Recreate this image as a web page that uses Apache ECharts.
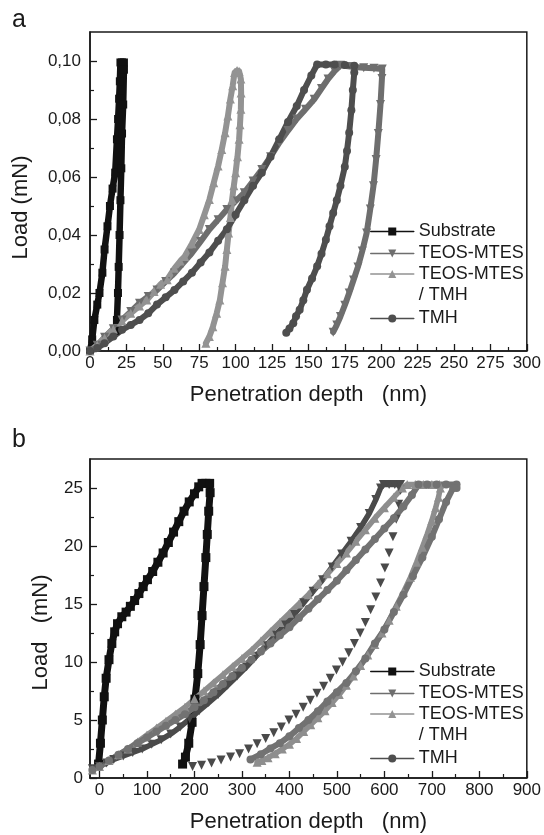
<!DOCTYPE html>
<html>
<head>
<meta charset="utf-8">
<script src="https://cdn.jsdelivr.net/npm/echarts@6/dist/echarts.min.js"></script>
<style>
html,body{margin:0;padding:0;background:#fff;}
#chart{width:544px;height:835px;}
</style>
</head>
<body>
<div id="chart"></div>
<script>
// ---------------- Data (panel a): [penetration depth nm, load mN] ----------------
const aSubstrate = [[0,0],[1.5,0.004],[3,0.0107],[5,0.016],[6.5,0.02],[8.5,0.027],[10,0.035],[12,0.043],[13.7,0.05],[15.5,0.056],[17.3,0.0615],[18.5,0.073],[19.3,0.08],[20,0.087],[20.5,0.093],[20.9,0.0995],[22,0.0995],[23.3,0.0995],[23.3,0.097],[22.8,0.085],[22,0.075],[21.5,0.063],[20.9,0.052],[20.3,0.04],[19.7,0.029],[19.2,0.02],[18.5,0.0107],[17.5,0.007]];
const aTeosMtes = [[0,0],[5,0.002],[10,0.0047],[16,0.0077],[22,0.0107],[28,0.0136],[34,0.0165],[40,0.0188],[46,0.021],[52,0.024],[58,0.0269],[64,0.0303],[70,0.0338],[76,0.0378],[82,0.0419],[88,0.0453],[94,0.0488],[100,0.0517],[106,0.0546],[112,0.0586],[118,0.0626],[124,0.067],[130,0.0718],[136,0.076],[142,0.08],[148,0.0834],[154,0.0868],[159,0.0905],[163.5,0.0938],[168,0.0965],[172,0.0985],[180,0.098],[188,0.0977],[195,0.0975],[200.7,0.0972],[200.5,0.094],[199.5,0.085],[198,0.075],[196.5,0.066],[194.7,0.057],[192.5,0.049],[190,0.0407],[187,0.0345],[184,0.029],[181,0.0245],[178,0.02],[175,0.0158],[172,0.0119],[169.5,0.009],[167,0.0065]];
const aTeosMtesTmh = [[0,0],[5,0.002],[10,0.0045],[16,0.0075],[22,0.0104],[28,0.013],[34,0.0155],[39,0.0176],[44,0.0205],[48.5,0.023],[53,0.0246],[58,0.0285],[62,0.031],[65,0.0326],[70,0.037],[75,0.0419],[78.5,0.047],[82,0.0522],[85,0.058],[88,0.0638],[90.5,0.0695],[92.8,0.0753],[94.7,0.081],[96.4,0.0869],[98,0.0915],[99.3,0.096],[101,0.0967],[102.4,0.0965],[103.6,0.0938],[103.8,0.089],[103.6,0.0834],[103,0.078],[102.4,0.073],[101.3,0.067],[100,0.0615],[98.8,0.057],[97.6,0.0522],[96.4,0.046],[95.2,0.0407],[94,0.035],[92.8,0.0292],[91,0.0235],[89.2,0.0176],[87,0.013],[84.4,0.0084],[82,0.005],[79.6,0.0027]];
const aTmh = [[0,0],[5,0.001],[10,0.0027],[16,0.005],[22,0.0073],[28,0.009],[34,0.0107],[40,0.013],[46,0.016],[52,0.0185],[58,0.021],[64,0.024],[70,0.027],[76,0.0305],[82,0.034],[88,0.038],[94,0.042],[100,0.047],[106,0.052],[112,0.057],[118,0.0615],[124,0.067],[130,0.073],[136,0.079],[142,0.0845],[147,0.09],[152,0.095],[156,0.0988],[162,0.0988],[168,0.0988],[175,0.0986],[181.5,0.0984],[181.5,0.096],[180.5,0.09],[179.5,0.083],[178,0.0753],[176.5,0.069],[175,0.0635],[172,0.057],[169.5,0.052],[167,0.0476],[164.5,0.043],[162,0.0384],[159,0.0335],[156,0.0292],[152.5,0.025],[149,0.0211],[146.5,0.0175],[144,0.0142],[141.5,0.012],[139.6,0.0096],[137,0.0078],[134.8,0.0063]];

// ---------------- Data (panel b): [penetration depth nm, load mN] ----------------
const bSubstrate = [[-2,1.2],[2,3],[6,5],[10,7],[14,8.6],[20,10.2],[26,11.6],[32,12.6],[38,13.3],[47,13.9],[56,14.3],[65,14.8],[74,15.3],[83,15.9],[92,16.5],[101,17.1],[112,17.8],[123,18.6],[134,19.4],[145,20.3],[156,21.2],[167,22.1],[178,23],[189,23.8],[200,24.5],[209,25.1],[216,25.4],[224,25.4],[232,25.4],[233,24.6],[230,23],[227,21],[224,19],[220,16.5],[216,14],[212,11.5],[207,9],[201,6.8],[195,4.8],[188,3],[181,1.8],[175,1.2]];
const bTeosMtesLoading = [[-15,0.8],[0,1.0],[15,1.3],[30,1.6],[50,1.9],[70,2.2],[90,2.5],[110,2.9],[130,3.3],[150,3.8],[170,4.4],[190,5.1],[210,5.8],[230,6.5],[250,7.2],[270,8.0],[290,8.8],[310,9.6],[330,10.5],[350,11.4],[370,12.3],[390,13.2],[410,14.1],[430,15.1],[450,16.1],[470,17.1],[490,18.2],[510,19.3],[530,20.4],[550,21.6],[568,22.8],[582,24.0],[592,25.0],[598,25.3],[610,25.3],[622,25.3],[634,25.3]];
const bTeosMtesUnloading = [[634,24.8],[630,23.6],[625,22.3],[618,20.8],[610,19.4],[601,18.1],[592,16.8],[582,15.6],[571,14.5],[560,13.4],[549,12.5],[537,11.6],[525,10.8],[512,10.0],[499,9.3],[486,8.6],[472,7.9],[458,7.3],[444,6.7],[429,6.1],[414,5.5],[399,5.0],[383,4.4],[367,3.9],[350,3.4],[332,2.95],[314,2.5],[295,2.1],[276,1.8],[256,1.55],[236,1.3],[215,1.1],[196,1.0]];
const bTeosMtesTmh = [[-15,0.7],[0,1.0],[20,1.5],[40,2.0],[60,2.5],[80,3.1],[100,3.7],[120,4.3],[140,4.9],[160,5.5],[180,6.1],[200,6.8],[220,7.5],[240,8.2],[260,8.9],[280,9.6],[300,10.3],[320,11.0],[340,11.8],[360,12.6],[380,13.4],[400,14.2],[420,15.0],[440,15.8],[460,16.7],[480,17.6],[500,18.5],[520,19.4],[540,20.4],[560,21.4],[580,22.4],[600,23.3],[620,24.2],[638,25.0],[648,25.3],[665,25.3],[682,25.3],[700,25.3],[716,25.3],[718,25.0],[714,24.2],[708,23.3],[700,22.2],[690,21.0],[680,19.9],[668,18.6],[655,17.3],[640,16.0],[625,14.8],[610,13.6],[595,12.5],[580,11.5],[565,10.6],[550,9.7],[535,8.8],[520,8.0],[505,7.2],[490,6.5],[475,5.8],[460,5.2],[445,4.6],[430,4.0],[415,3.4],[400,2.9],[385,2.5],[370,2.1],[355,1.75],[342,1.5],[332,1.35]];
const bTmh = [[-15,0.7],[0,1.0],[20,1.5],[40,2.0],[60,2.5],[80,3.0],[100,3.5],[120,4.0],[140,4.5],[160,5.0],[180,5.5],[200,6.1],[220,6.7],[240,7.4],[260,8.1],[280,8.8],[300,9.5],[320,10.2],[340,10.9],[360,11.6],[380,12.3],[400,13.0],[420,13.8],[440,14.6],[460,15.4],[480,16.2],[500,17.0],[520,17.9],[540,18.8],[560,19.7],[580,20.6],[600,21.5],[620,22.4],[640,23.4],[658,24.4],[672,25.3],[690,25.3],[710,25.3],[730,25.3],[752,25.3],[752,25.0],[745,25.0],[730,23.8],[715,22.3],[700,20.8],[680,19.0],[660,17.4],[640,15.8],[620,14.3],[600,12.8],[580,11.6],[560,10.3],[540,9.2],[520,8.2],[500,7.4],[480,6.6],[460,5.75],[440,5.0],[420,4.3],[400,3.6],[380,3.0],[360,2.55],[340,2.05],[318,1.6]];

// ---------------- Tick labels ----------------
const aXTicks = [0,25,50,75,100,125,150,175,200,225,250,275,300];
const aYTicks = [0,0.02,0.04,0.06,0.08,0.10];
const bXTicks = [0,100,200,300,400,500,600,700,800,900];
const bYTicks = [0,5,10,15,20,25];

const seriesNames = ['Substrate','TEOS-MTES','TEOS-MTES / TMH','TMH'];

// ---------------- Styling helpers ----------------
const FONT = '"Liberation Sans", Arial, Helvetica, sans-serif';
const INK = '#1a1a1a';
const DOWN_TRI = 'path://M0,0L10,0L5,9Z';

function mids(arr) {
  const out = [];
  for (let i = 0; i < arr.length - 1; i++) out.push((arr[i] + arr[i + 1]) / 2);
  return out;
}

function mainAxis(dim, grid, min, max, ticks, fmt, margin, name, nameGap, namePad) {
  return {
    type: 'value', gridIndex: grid, min: min, max: max,
    position: dim === 'x' ? 'bottom' : 'left',
    axisLine: { show: true, onZero: false, lineStyle: { color: INK, width: 1.5 } },
    axisTick: { show: true, inside: true, length: 7, customValues: ticks, lineStyle: { color: INK, width: 1.3 } },
    axisLabel: { show: true, customValues: ticks, formatter: fmt, margin: margin, fontSize: 17, color: INK, fontFamily: FONT },
    splitLine: { show: false },
    name: name, nameLocation: 'middle', nameGap: nameGap,
    nameTextStyle: { fontSize: 22, color: INK, fontFamily: FONT, lineHeight: 24, padding: namePad }
  };
}
function minorAxis(dim, grid, min, max, ticks) {
  return {
    type: 'value', gridIndex: grid, min: min, max: max,
    position: dim === 'x' ? 'bottom' : 'left',
    axisLine: { show: false, onZero: false },
    axisTick: { show: true, inside: true, length: 4, customValues: ticks, lineStyle: { color: INK, width: 1.2 } },
    axisLabel: { show: false },
    splitLine: { show: false }
  };
}

function lineSeries(name, data, xi, yi, color, symbol, symbolSize, lineWidth, lineOpacity) {
  return {
    type: 'line', name: name, data: data, xAxisIndex: xi, yAxisIndex: yi,
    symbol: symbol, symbolSize: symbolSize, showSymbol: true,
    lineStyle: { color: color, width: lineWidth, opacity: lineOpacity == null ? 1 : lineOpacity, join: 'round', cap: 'round' },
    itemStyle: { color: color },
    emphasis: { disabled: true },
    z: 3
  };
}

function legendRow(name, top, label) {
  return {
    data: [name], left: 370, top: top, orient: 'vertical', padding: 0,
    itemWidth: 43, itemHeight: 10, itemGap: 0, selectedMode: false,
    formatter: label ? function () { return label; } : undefined,
    textStyle: { fontSize: 18, lineHeight: 21, color: INK, fontFamily: FONT },
    lineStyle: { width: 1.5 }
  };
}

const fmtA = v => v.toFixed(2).replace('.', ',');
const fmtB = v => String(v);

const option = {
  animation: false,
  backgroundColor: '#ffffff',
  grid: [
    { left: 90, right: 16, top: 32, height: 319, show: true, borderColor: INK, borderWidth: 1.5, backgroundColor: 'transparent' },
    { left: 90, right: 16, top: 459, height: 319, show: true, borderColor: INK, borderWidth: 1.5, backgroundColor: 'transparent' }
  ],
  xAxis: [
    mainAxis('x', 0, 0, 300, aXTicks, fmtB, 4, 'Penetration depth   (nm)', 32),
    minorAxis('x', 0, 0, 300, mids(aXTicks)),
    mainAxis('x', 1, -20, 900, bXTicks, fmtB, 4, 'Penetration depth   (nm)', 32),
    minorAxis('x', 1, -20, 900, mids(bXTicks))
  ],
  yAxis: [
    mainAxis('y', 0, 0, 0.11, aYTicks, fmtA, 9, 'Load (mN)', 57, [0, 32, 0, 0]),
    minorAxis('y', 0, 0, 0.11, mids(aYTicks)),
    mainAxis('y', 1, 0, 27.5, bYTicks, fmtB, 7, 'Load   (mN)', 37, [0, 28, 0, 0]),
    minorAxis('y', 1, 0, 27.5, mids(bYTicks))
  ],
  legend: [
    legendRow(seriesNames[0], 221),
    legendRow(seriesNames[1], 243),
    legendRow(seriesNames[2], 242.5, '\nTEOS-MTES\n/ TMH'),
    legendRow(seriesNames[3], 308),
    legendRow(seriesNames[0], 661),
    legendRow(seriesNames[1], 683),
    legendRow(seriesNames[2], 682.5, '\nTEOS-MTES\n/ TMH'),
    legendRow(seriesNames[3], 748)
  ],
  graphic: [
    { type: 'text', left: 12, top: 8, style: { text: 'a', fontSize: 25, fill: INK, font: '25px ' + FONT } },
    { type: 'text', left: 12, top: 428, style: { text: 'b', fontSize: 25, fill: INK, font: '25px ' + FONT } }
  ],
  series: [
    lineSeries(seriesNames[0], aSubstrate, 0, 0, '#111111', 'rect', 8, 6.5),
    lineSeries(seriesNames[1], aTeosMtes, 0, 0, '#6e6e6e', DOWN_TRI, 9, 6),
    lineSeries(seriesNames[2], aTeosMtesTmh, 0, 0, '#939393', 'triangle', 9, 6),
    lineSeries(seriesNames[3], aTmh, 0, 0, '#4e4e4e', 'circle', 8, 6),
    lineSeries(seriesNames[0], bSubstrate, 2, 2, '#111111', 'rect', 9, 7),
    lineSeries(seriesNames[1], bTeosMtesLoading, 2, 2, '#4a4a4a', DOWN_TRI, 9, 5.5),
    lineSeries(seriesNames[1], bTeosMtesUnloading, 2, 2, '#4a4a4a', DOWN_TRI, 9, 1, 0),
    lineSeries(seriesNames[2], bTeosMtesTmh, 2, 2, '#8e8e8e', 'triangle', 9, 5.5),
    lineSeries(seriesNames[3], bTmh, 2, 2, '#727272', 'circle', 8, 6)
  ]
};

const chart = echarts.init(document.getElementById('chart'), null, { renderer: 'canvas' });
chart.setOption(option);
</script>
</body>
</html>
